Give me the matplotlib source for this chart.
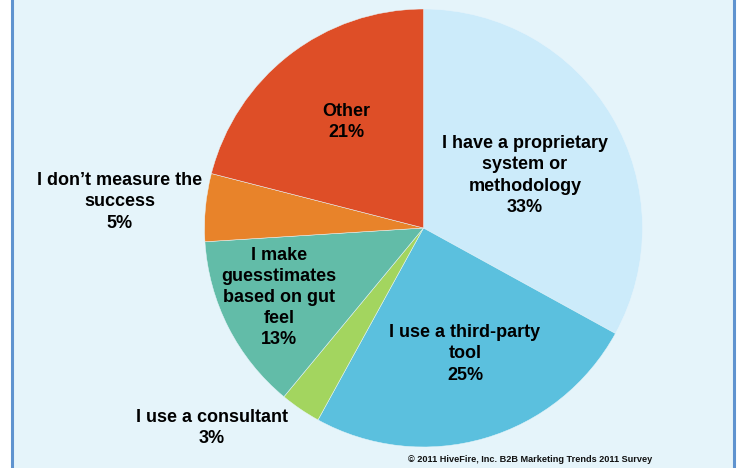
import matplotlib
matplotlib.use("Agg")
import matplotlib.pyplot as plt
from matplotlib.patches import Rectangle
from matplotlib.lines import Line2D

# Survey responses, clockwise from 12 o'clock
categories = [
    "I have a proprietary\nsystem or\nmethodology",
    "I use a third-party\ntool",
    "I use a consultant",
    "I make\nguesstimates\nbased on gut\nfeel",
    "I don\u2019t measure the\nsuccess",
    "Other",
]
shares = [33, 25, 3, 13, 5, 21]
colors = ["#CCEBFA", "#5BC0DE", "#A3D55F", "#62BCA8", "#E8832A", "#DE4E27"]
footer = "\u00a9 2011 HiveFire, Inc. B2B Marketing Trends 2011 Survey"

W, H = 737, 468
DPI = 100
plt.rcParams["font.family"] = ["Liberation Sans", "DejaVu Sans"]

fig = plt.figure(figsize=(W / DPI, H / DPI), dpi=DPI, facecolor="white")

# light panel with blue side rules
fig.patches.append(Rectangle((11 / W, 0), (735 - 11) / W, 1, transform=fig.transFigure,
                             facecolor="#E5F4FA", edgecolor="none", zorder=-5))
for xp in (12, 734):
    fig.add_artist(Line2D([xp / W, xp / W], [0, 1], transform=fig.transFigure,
                          color="#5F93CF", lw=2.2, zorder=-4))

# pie geometry in pixels
cx, cy, r = 423.5, 228.0, 219.0
ax = fig.add_axes([(cx - r) / W, (H - cy - r) / H, 2 * r / W, 2 * r / H])
ax.set_zorder(3)
ax.axis("off")
ax.patch.set_alpha(0)

ax.pie(shares, colors=colors, startangle=90, counterclock=False, radius=1,
       center=(0, 0), frame=False,
       wedgeprops=dict(edgecolor="#E8F5FA", linewidth=0.35))
ax.set_xlim(-1, 1)
ax.set_ylim(-1, 1)
ax.set_aspect("auto")


def to_data(px, py):
    return (px - cx) / r, (cy - py) / r


label_pos = [(525, 175.5), (465, 354), (212, 428), (279, 297.5), (119.5, 202), (346, 122)]
for cat, val, (px, py) in zip(categories, shares, label_pos):
    x, y = to_data(px, py)
    ax.text(x, y, f"{cat}\n{val}%", ha="center", va="center", fontsize=13,
            fontweight="bold", color="black", linespacing=1.32, clip_on=False)

fig.text(530 / W, 1 - 460 / H, footer, ha="center", va="center", fontsize=6.6,
         fontweight="bold", color="#111111", zorder=4)

fig.savefig("out.png", dpi=DPI, facecolor="white")
